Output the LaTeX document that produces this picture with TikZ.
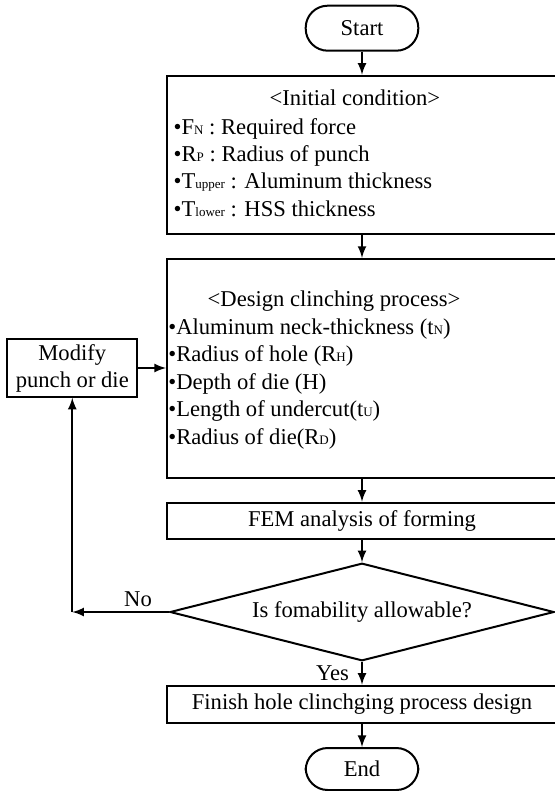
\documentclass[tikz,border=0pt]{standalone}
\usepackage{fontspec}
\setmainfont{Liberation Serif}
\usetikzlibrary{shapes.geometric}
\tikzset{
  >=latex,
  box/.style={draw, line width=1pt, minimum width=195pt, inner sep=0pt},
  term/.style={draw, line width=1pt, rounded corners=11pt, minimum width=56.3pt, inner sep=0pt},
  txt/.style={anchor=base west, inner sep=0pt},
  flow/.style={->, line width=1pt}
}
\newcommand{\lowsub}[1]{{\fontsize{6.5}{7}\selectfont #1}}

\begin{document}
\begin{tikzpicture}[x=0.5pt, y=-0.5pt, font=\fontsize{11.3}{13.5}\selectfont]
  \useasboundingbox (0,0) rectangle (554,791);
  % terminals and boxes
  \node[term, minimum height=22.5pt] (start) at (362,28.2) {Start};
  \node[box, minimum height=79.2pt] (init) at (362,154.9) {};
  \node[box, minimum height=109.7pt] (design) at (362,368.6) {};
  \node[box, minimum height=18.3pt] (fem) at (362,521) {FEM analysis of forming};
  \node[draw, line width=1pt, shape=diamond, aspect=3.93, minimum width=192pt,
        minimum height=48.8pt, inner sep=0pt] (check) at (362,612) {Is fomability allowable?};
  \node[box, minimum height=18.5pt] (finish) at (362,704.2) {Finish hole clinchging process design};
  \node[term, minimum height=21pt] (end) at (362,769) {End};
  \node[draw, line width=1pt, minimum width=65pt, minimum height=28.7pt, inner sep=0pt,
        align=center] (modify) at (72.3,368) {Modify\\punch or die};

  % initial condition
  \node[txt] (inittitle) at (269.3,106) {\textless Initial condition\textgreater};
  \node[txt] (fn) at (173.3,135) {•F\lowsub{N} : Required force};
  \node[txt] (rp) at (173.3,162) {•R\lowsub{P} : Radius of punch};
  \node[txt] (tup) at (173.3,189) {•T\lowsub{upper} : Aluminum thickness};
  \node[txt] (tlow) at (173.3,216) {•T\lowsub{lower} : HSS thickness};

  % design clinching process
  \node[txt] (designtitle) at (207.3,306.7) {\textless Design clinching process\textgreater};
  \node[txt] (tn) at (168,334.3) {•Aluminum neck-thickness (t\lowsub{N})};
  \node[txt] (rh) at (168,361.7) {•Radius of hole (R\lowsub{H})};
  \node[txt] (hd) at (168,389) {•Depth of die (H)};
  \node[txt] (tu) at (168,416) {•Length of undercut(t\lowsub{U})};
  \node[txt] (rd) at (168,444) {•Radius of die(R\lowsub{D})};

  % connectors
  \draw[flow] (start) -- (init);
  \draw[flow] (init) -- (design);
  \draw[flow] (design) -- (fem);
  \draw[flow] (fem) -- (check);
  \draw[flow] (check) -- (finish);
  \draw[flow] (finish) -- (end);
  \coordinate (turn) at (72.3,612);
  \draw[flow] (check.west) -- (turn);
  \draw[flow] (turn) -- (modify.south);
  \draw[flow] (modify.east) -- (design.west |- modify.east);
  \node[anchor=base, inner sep=0pt] (no) at (138,606.5) {No};
  \node[anchor=base, inner sep=0pt] (yes) at (332.5,680) {Yes};
\end{tikzpicture}
\end{document}
